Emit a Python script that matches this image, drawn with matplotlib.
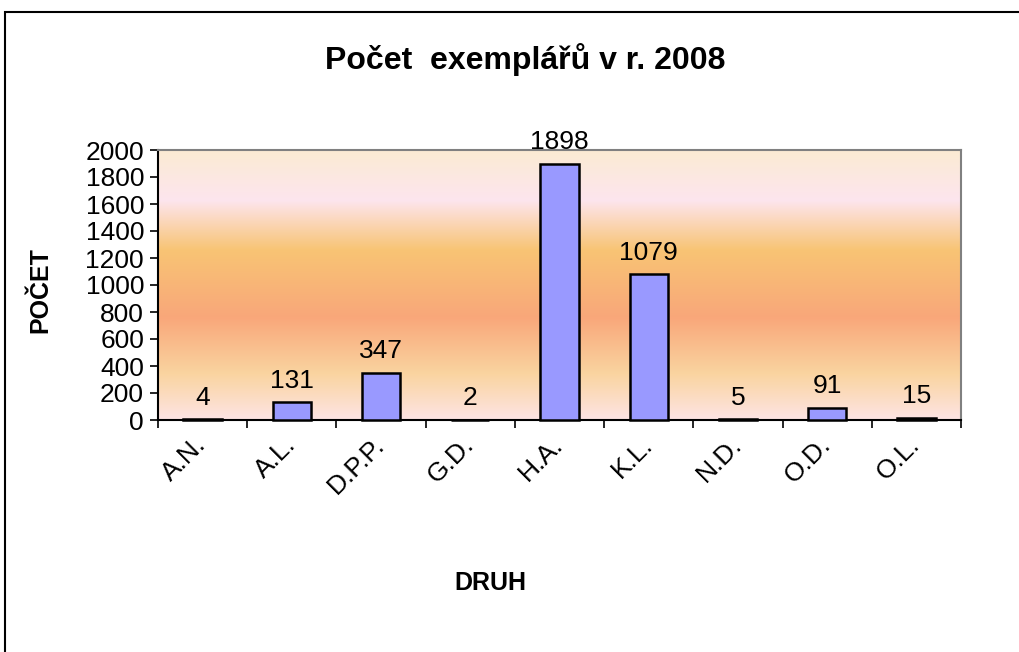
import numpy as np
import matplotlib
matplotlib.use('Agg')
import matplotlib.pyplot as plt
from matplotlib.colors import LinearSegmentedColormap
from matplotlib.patches import Rectangle

plt.rcParams['font.family'] = ['Liberation Sans', 'DejaVu Sans']

# --- data ---
druhy = ['A.N.', 'A.L.', 'D.P.P.', 'G.D.', 'H.A.', 'K.L.', 'N.D.', 'O.D.', 'O.L.']
pocty = [4, 131, 347, 2, 1898, 1079, 5, 91, 15]
y_ticks = [0, 200, 400, 600, 800, 1000, 1200, 1400, 1600, 1800, 2000]

fig = plt.figure(figsize=(10.19, 6.52), dpi=100)
fig.patch.set_facecolor('white')

# ramecek kolem celeho grafu
fig.patches.append(Rectangle((5 / 1019, -0.01), 1.02, 1 - 12 / 652 + 0.01,
                             transform=fig.transFigure, fill=False,
                             edgecolor='black', linewidth=1.5))

ax = fig.add_axes([158 / 1019, 1 - 420 / 652, (961 - 158) / 1019, (420 - 150) / 652])

# prechod pozadi (odshora dolu)
stops = [(0.0, '#FBEBD3'), (0.185, '#FDE5EE'), (0.37, '#F8C474'),
         (0.62, '#F9A77A'), (0.83, '#FAD4A0'), (1.0, '#FDE4E4')]
cmap = LinearSegmentedColormap.from_list('pozadi', stops)
grad = np.linspace(0, 1, 256).reshape(-1, 1)
ax.imshow(grad, cmap=cmap, aspect='auto', extent=[0, 1, 0, 1],
          transform=ax.transAxes, zorder=0, interpolation='bilinear')

x = np.arange(len(druhy))
bars = ax.bar(x, pocty, width=0.43, color='#9999FF', edgecolor='black',
              linewidth=1.8, zorder=3, clip_on=False)

for xi, v in zip(x, pocty):
    ax.annotate(str(v), (xi, v), xytext=(0, 7), textcoords='offset points',
                ha='center', va='bottom', fontsize=19, zorder=4)

ax.set_xlim(-0.5, len(druhy) - 0.5)
ax.set_ylim(0, 2000)
ax.set_yticks(y_ticks)
ax.tick_params(axis='y', labelsize=19, length=6, width=1.2, direction='out', pad=4)

# tick mezi kategoriemi, popisky uprostred
ax.set_xticks(np.arange(-0.5, len(druhy), 1.0))
ax.set_xticklabels([])
ax.set_xticks(x, minor=True)
ax.set_xticklabels(druhy, minor=True, rotation=45, ha='right', va='center',
                   rotation_mode='anchor', fontsize=19)
ax.tick_params(axis='x', which='major', length=6, width=1.2, direction='out')
ax.tick_params(axis='x', which='minor', length=0, pad=15)

for s in ['top', 'right']:
    ax.spines[s].set_color('#808080')
    ax.spines[s].set_linewidth(1.5)
for s in ['left', 'bottom']:
    ax.spines[s].set_color('black')
    ax.spines[s].set_linewidth(1.5)

fig.text(525 / 1019, 1 - 60 / 652, 'Počet  exemplářů v r. 2008', ha='center',
         va='center', fontsize=23, fontweight='bold')
fig.text(40 / 1019, 1 - 290 / 652, 'POČET', ha='center', va='center',
         rotation=90, fontsize=18, fontweight='bold')
fig.text(490 / 1019, 1 - 583 / 652, 'DRUH', ha='center', va='center',
         fontsize=18, fontweight='bold')

fig.savefig('out.png', dpi=100, facecolor='white')
